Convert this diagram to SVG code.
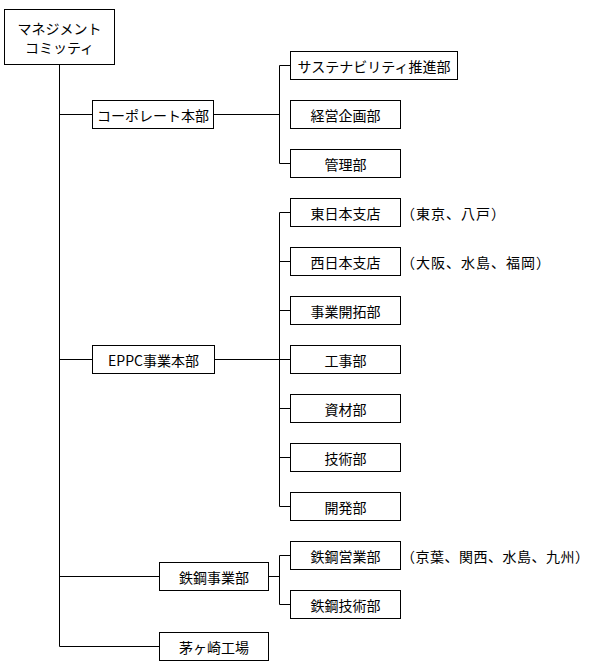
<svg xmlns="http://www.w3.org/2000/svg" width="593" height="666" viewBox="0 0 593 666">
<style>
rect{fill:#fff;stroke:#000;stroke-width:1}
text{font-family:"Noto Sans CJK JP","Noto Sans",sans-serif;font-size:14px;fill:#000;dominant-baseline:central}
.c{text-anchor:middle}
.n{letter-spacing:1px}
.conn path{fill:none;stroke:#000;stroke-width:1}
</style>
<rect x="0" y="0" width="593" height="666" style="stroke:none"/>
<g class="conn">
<path d="M59.5 65V646.5H159.5"/>
<path d="M59.5 114.5H92.5M213.5 114.5H279.5M279.5 65.5V163.5M279.5 65.5H290.5M279.5 163.5H290.5"/>
<path d="M59.5 359.5H92.5M214.5 359.5H279.5M279.5 212.5V506.5M279.5 212.5H290.5M279.5 261.5H290.5M279.5 310.5H290.5M279.5 359.5H290.5M279.5 408.5H290.5M279.5 457.5H290.5M279.5 506.5H290.5"/>
<path d="M59.5 576.5H159.5M268.5 576.5H279.5M279.5 555.5V604.5M279.5 555.5H290.5M279.5 604.5H290.5"/>
</g>
<g id="mgmt"><rect x="4.5" y="9.5" width="110" height="55"/><text class="c" x="59.5" y="27.5">マネジメント</text><text class="c" x="59.5" y="46.5">コミッティ</text></g>
<g id="corp"><rect x="92.5" y="100.5" width="121" height="28"/><text class="c" x="153" y="114.5">コーポレート本部</text></g>
<g id="sus"><rect x="290.5" y="51.5" width="167" height="28"/><text class="c" x="374" y="65.5">サステナビリティ推進部</text></g>
<g id="keiei"><rect x="290.5" y="100.5" width="110" height="28"/><text class="c" x="345.5" y="114.5">経営企画部</text></g>
<g id="kanri"><rect x="290.5" y="149.5" width="110" height="28"/><text class="c" x="345.5" y="163.5">管理部</text></g>
<g id="eppc"><rect x="92.5" y="345.5" width="122" height="28"/><text class="c" x="153.5" y="359.5">EPPC事業本部</text></g>
<g id="higashi"><rect x="290.5" y="198.5" width="110" height="28"/><text class="c" x="345.5" y="212.5">東日本支店</text></g>
<g id="nishi"><rect x="290.5" y="247.5" width="110" height="28"/><text class="c" x="345.5" y="261.5">西日本支店</text></g>
<g id="kaitaku"><rect x="290.5" y="296.5" width="110" height="28"/><text class="c" x="345.5" y="310.5">事業開拓部</text></g>
<g id="kouji"><rect x="290.5" y="345.5" width="110" height="28"/><text class="c" x="345.5" y="359.5">工事部</text></g>
<g id="shizai"><rect x="290.5" y="394.5" width="110" height="28"/><text class="c" x="345.5" y="408.5">資材部</text></g>
<g id="gijutsu"><rect x="290.5" y="443.5" width="110" height="28"/><text class="c" x="345.5" y="457.5">技術部</text></g>
<g id="kaihatsu"><rect x="290.5" y="492.5" width="110" height="28"/><text class="c" x="345.5" y="506.5">開発部</text></g>
<g id="tekko"><rect x="159.5" y="562.5" width="109" height="28"/><text class="c" x="214" y="576.5">鉄鋼事業部</text></g>
<g id="tekko-eigyo"><rect x="290.5" y="541.5" width="110" height="28"/><text class="c" x="345.5" y="555.5">鉄鋼営業部</text></g>
<g id="tekko-gijutsu"><rect x="290.5" y="590.5" width="110" height="28"/><text class="c" x="345.5" y="604.5">鉄鋼技術部</text></g>
<g id="chigasaki"><rect x="159.5" y="632.5" width="109" height="28"/><text class="c" x="214" y="646.5">茅ヶ崎工場</text></g>
<g id="notes">
<text class="n" x="401" y="212.5">（東京、八戸）</text>
<text class="n" x="401" y="261.5">（大阪、水島、福岡）</text>
<text x="401" y="555.5" style="letter-spacing:0.5px">（京葉、関西、水島、九州）</text>
</g>
</svg>
